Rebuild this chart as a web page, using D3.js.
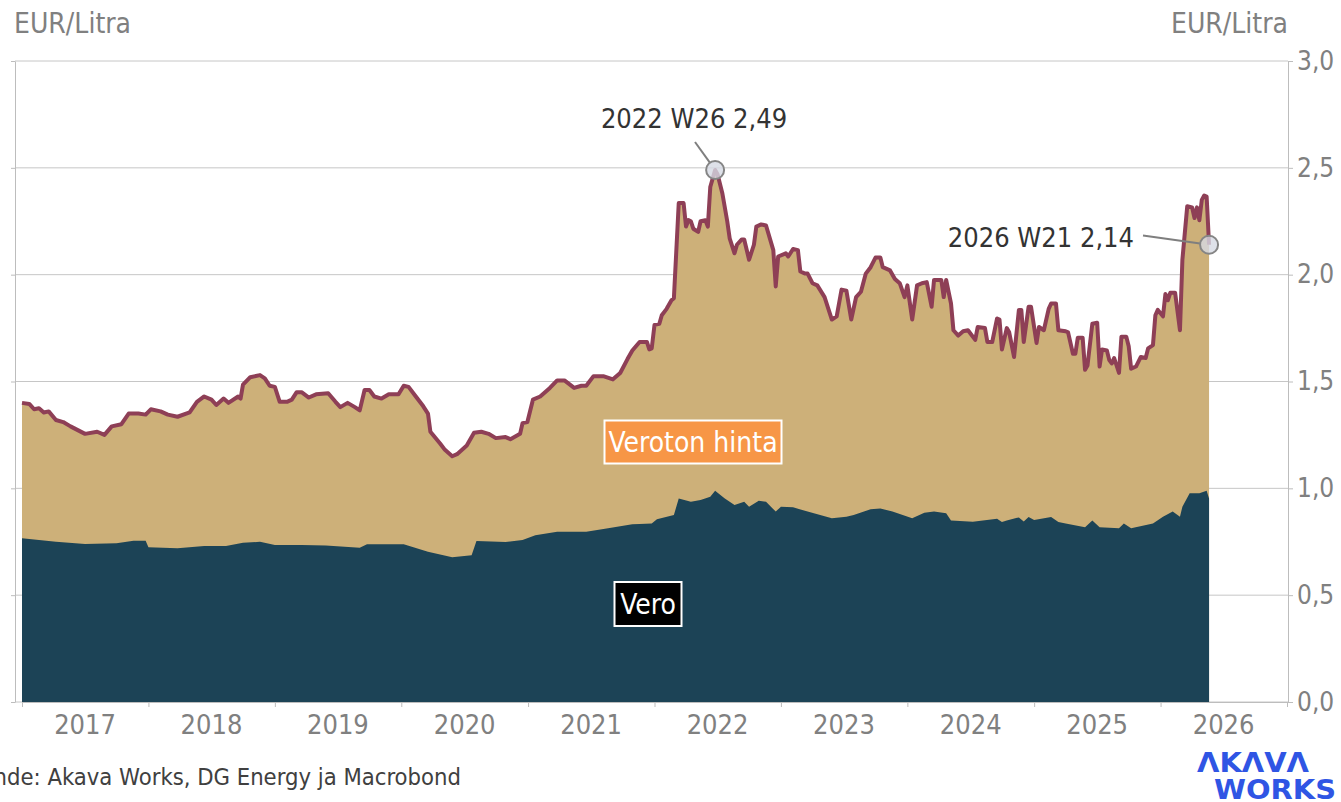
<!DOCTYPE html>
<html>
<head>
<meta charset="utf-8">
<script src="https://cdn.jsdelivr.net/npm/d3@7"></script>
<style>
  body { margin: 0; background: #fff; }
  svg text { font-family: 'DejaVu Sans Condensed', 'DejaVu Sans', sans-serif; font-stretch: condensed; }
</style>
</head>
<body>
<svg id="chart" width="1341" height="802"></svg>
<script>
// Pump price (EUR/litre), weekly readings
var totalWeeks = [
  "2017-W01","2017-W04","2017-W06","2017-W08","2017-W10","2017-W12","2017-W15","2017-W18","2017-W21","2017-W27","2017-W32","2017-W35","2017-W38","2017-W42","2017-W45","2017-W49","2017-W52",
  "2018-W02","2018-W06","2018-W09","2018-W13","2018-W18","2018-W21","2018-W24","2018-W27","2018-W29","2018-W32","2018-W34","2018-W38","2018-W39","2018-W40","2018-W43","2018-W47","2018-W49","2018-W51",
  "2019-W01","2019-W03","2019-W06","2019-W08","2019-W10","2019-W12","2019-W15","2019-W18","2019-W23","2019-W26","2019-W28","2019-W31","2019-W34","2019-W36","2019-W38","2019-W40","2019-W42","2019-W45","2019-W48","2019-W52",
  "2020-W02","2020-W04","2020-W07","2020-W10","2020-W12","2020-W13","2020-W17","2020-W19","2020-W22","2020-W24","2020-W28","2020-W31","2020-W34","2020-W37","2020-W40","2020-W44","2020-W46","2020-W50","2020-W51","2020-W53",
  "2021-W03","2021-W06","2021-W10","2021-W13","2021-W16","2021-W20","2021-W23","2021-W25","2021-W28","2021-W32","2021-W36","2021-W39","2021-W42","2021-W44","2021-W47","2021-W50","2021-W51","2021-W52",
  "2022-W01","2022-W03","2022-W04","2022-W06","2022-W08","2022-W09","2022-W11","2022-W13","2022-W14","2022-W15","2022-W16","2022-W17","2022-W19","2022-W20","2022-W22","2022-W23","2022-W24","2022-W26","2022-W27","2022-W29","2022-W31","2022-W32","2022-W34","2022-W35","2022-W37","2022-W38","2022-W40","2022-W42","2022-W43","2022-W45","2022-W47","2022-W50","2022-W51","2022-W52",
  "2023-W03","2023-W04","2023-W06","2023-W08","2023-W09","2023-W11","2023-W12","2023-W14","2023-W16","2023-W19","2023-W22","2023-W24","2023-W26","2023-W28","2023-W30","2023-W32","2023-W34","2023-W36","2023-W38","2023-W40","2023-W42","2023-W43","2023-W46","2023-W48","2023-W50","2023-W52",
  "2024-W01","2024-W03","2024-W05","2024-W07","2024-W09","2024-W11","2024-W12","2024-W15","2024-W16","2024-W17","2024-W19","2024-W20","2024-W22","2024-W24","2024-W26","2024-W29","2024-W30","2024-W33","2024-W34","2024-W36","2024-W38","2024-W39","2024-W40","2024-W42","2024-W43","2024-W45","2024-W47","2024-W48","2024-W49","2024-W51","2024-W52",
  "2025-W02","2025-W03","2025-W05","2025-W07","2025-W08","2025-W10","2025-W11","2025-W14","2025-W15","2025-W17","2025-W18","2025-W19","2025-W21","2025-W22","2025-W23","2025-W25","2025-W27","2025-W28","2025-W29","2025-W31","2025-W32","2025-W33","2025-W34","2025-W36","2025-W37","2025-W39","2025-W40","2025-W41","2025-W43","2025-W45","2025-W47","2025-W48","2025-W50","2025-W51","2025-W52",
  "2026-W02","2026-W03","2026-W04","2026-W05","2026-W07","2026-W09","2026-W10","2026-W12","2026-W14","2026-W15","2026-W16","2026-W17","2026-W18","2026-W19","2026-W20","2026-W21"
];
var totalPrice = [
  1.40,1.395,1.37,1.375,1.355,1.36,1.32,1.31,1.29,1.255,1.265,1.25,1.29,1.30,1.35,1.35,1.345,
  1.37,1.36,1.345,1.335,1.355,1.405,1.43,1.415,1.39,1.42,1.40,1.43,1.42,1.485,1.52,1.53,1.515,1.48,
  1.475,1.405,1.405,1.415,1.45,1.45,1.425,1.44,1.445,1.405,1.38,1.40,1.38,1.365,1.46,1.46,1.43,1.42,1.44,1.44,
  1.48,1.475,1.43,1.385,1.35,1.265,1.21,1.18,1.15,1.16,1.20,1.26,1.265,1.255,1.235,1.24,1.23,1.255,1.305,1.31,
  1.415,1.43,1.47,1.505,1.505,1.47,1.48,1.48,1.525,1.525,1.51,1.54,1.605,1.645,1.685,1.685,1.65,1.655,
  1.765,1.77,1.81,1.84,1.88,1.89,2.335,2.335,2.225,2.255,2.25,2.215,2.20,2.25,2.255,2.225,2.41,2.49,2.47,2.38,2.25,2.17,2.10,2.14,2.165,2.165,2.07,2.14,2.225,2.235,2.23,2.115,1.945,2.085,
  2.10,2.085,2.12,2.115,2.015,2.005,2.005,1.96,1.95,1.895,1.79,1.805,1.93,1.925,1.79,1.895,1.92,2.005,2.035,2.08,2.08,2.035,2.02,1.98,1.96,1.895,
  1.95,1.79,1.95,1.96,1.965,1.85,1.975,1.975,1.895,1.975,1.865,1.74,1.715,1.735,1.74,1.695,1.755,1.75,1.685,1.685,1.795,1.79,1.65,1.75,1.73,1.615,1.835,1.835,1.685,1.85,1.85,
  1.68,1.755,1.74,1.84,1.865,1.865,1.74,1.735,1.73,1.63,1.63,1.705,1.705,1.555,1.575,1.77,1.775,1.57,1.65,1.645,1.60,1.585,1.61,1.54,1.71,1.71,1.665,1.56,1.57,1.615,1.61,1.655,1.67,1.81,1.835,
  1.805,1.91,1.88,1.915,1.915,1.74,2.07,2.32,2.315,2.265,2.315,2.255,2.35,2.37,2.365,2.14
];

// Tax part of the price (EUR/litre)
var taxWeeks = [
  "2017-W01","2017-W15","2017-W27","2017-W40","2017-W47","2017-W52",
  "2018-W01","2018-W13","2018-W24","2018-W33","2018-W40","2018-W47",
  "2019-W01","2019-W12","2019-W22","2019-W36","2019-W39",
  "2020-W02","2020-W12","2020-W22","2020-W30","2020-W32","2020-W44","2020-W51",
  "2021-W04","2021-W13","2021-W25","2021-W34","2021-W44","2021-W47","2021-W52",
  "2022-W02","2022-W09","2022-W11","2022-W16","2022-W20","2022-W24","2022-W26","2022-W30","2022-W34","2022-W38","2022-W40","2022-W44","2022-W47","2022-W51",
  "2023-W01","2023-W06","2023-W12","2023-W22","2023-W28","2023-W31","2023-W38","2023-W42","2023-W47",
  "2024-W03","2024-W08","2024-W12","2024-W17","2024-W19","2024-W28","2024-W38","2024-W40","2024-W42","2024-W47","2024-W49","2024-W51",
  "2025-W01","2025-W08","2025-W11","2025-W14","2025-W22","2025-W25","2025-W28","2025-W36","2025-W38","2025-W41","2025-W50",
  "2026-W02","2026-W06","2026-W09","2026-W10","2026-W13","2026-W17","2026-W20","2026-W21"
];
var taxValues = [
  0.766,0.75,0.74,0.743,0.755,0.755,
  0.724,0.72,0.73,0.73,0.745,0.75,
  0.735,0.735,0.733,0.722,0.738,
  0.738,0.703,0.677,0.687,0.753,0.749,0.758,
  0.78,0.797,0.797,0.813,0.832,0.833,0.836,
  0.855,0.875,0.953,0.937,0.945,0.961,0.989,0.953,0.922,0.937,0.914,0.942,0.937,0.891,
  0.914,0.911,0.891,0.86,0.867,0.875,0.902,0.906,0.891,
  0.86,0.886,0.891,0.883,0.849,0.844,0.858,0.843,0.85,0.864,0.845,0.866,
  0.852,0.866,0.842,0.836,0.818,0.849,0.818,0.813,0.836,0.813,0.836,
  0.867,0.891,0.867,0.914,0.977,0.977,0.989,0.953
];

var yTicks = [0, 0.5, 1, 1.5, 2, 2.5, 3];
var years = [2017, 2018, 2019, 2020, 2021, 2022, 2023, 2024, 2025, 2026];

function weekDate(s) {
  var p = s.split("-W");
  return new Date(+p[0], 0, 1 + (+p[1] - 1) * 7);
}

var total = totalWeeks.map(function (w, i) { return { date: weekDate(w), value: totalPrice[i] }; });
var tax = taxWeeks.map(function (w, i) { return { date: weekDate(w), value: taxValues[i] }; });

var svg = d3.select("#chart");

var x = d3.scaleTime()
  .domain([new Date(2017, 0, 1), new Date(2027, 0, 1)])
  .range([22, 1287]);
var y = d3.scaleLinear().domain([0, 3]).range([702, 61]);

var axisColor = "#bdbdbd";
var labelColor = "#808080";

// gridlines
svg.append("g").selectAll("line")
  .data(yTicks)
  .enter().append("line")
  .attr("x1", 15).attr("x2", 1288)
  .attr("y1", function (d) { return y(d); })
  .attr("y2", function (d) { return y(d); })
  .attr("stroke", "#c6c6c6")
  .attr("stroke-width", 1);

// areas
var area = d3.area()
  .x(function (d) { return x(d.date); })
  .y0(y(0))
  .y1(function (d) { return y(d.value); });

svg.append("path").datum(total)
  .attr("d", area)
  .attr("fill", "#cdb079");

svg.append("path").datum(tax)
  .attr("d", area)
  .attr("fill", "#1c4356");

svg.append("path").datum(total)
  .attr("d", d3.line().x(function (d) { return x(d.date); }).y(function (d) { return y(d.value); }))
  .attr("fill", "none")
  .attr("stroke", "#8e3f56")
  .attr("stroke-width", 4)
  .attr("stroke-linejoin", "round");

// left axis (ticks only)
var left = svg.append("g")
  .attr("transform", "translate(15,0)")
  .call(d3.axisLeft(y).tickValues(yTicks).tickSize(4).tickSizeOuter(0).tickFormat(""));

// right axis
var right = svg.append("g")
  .attr("transform", "translate(1288,0)")
  .call(d3.axisRight(y).tickValues(yTicks).tickSize(5).tickSizeOuter(0).tickPadding(4)
    .tickFormat(function (d) { return d3.format(".1f")(d).replace(".", ","); }));
right.selectAll("text")
  .attr("fill", labelColor)
  .style("font-size", "26px");

// bottom axis
var bottom = svg.append("g")
  .attr("transform", "translate(0,702)")
  .call(d3.axisBottom(x)
    .tickValues(years.concat([2027]).map(function (yr) { return new Date(yr, 0, 1); }))
    .tickSize(5).tickSizeOuter(0).tickFormat(""));

[left, right, bottom].forEach(function (g) {
  g.selectAll("path, line").attr("stroke", axisColor);
});

svg.append("g").selectAll("text")
  .data(years)
  .enter().append("text")
  .attr("x", function (d) { return x(new Date(d, 6, 2)); })
  .attr("y", 734)
  .attr("text-anchor", "middle")
  .attr("fill", labelColor)
  .style("font-size", "27px")
  .text(function (d) { return d; });

// unit labels
svg.append("text").attr("x", 14).attr("y", 33)
  .attr("fill", labelColor).style("font-size", "28px").text("EUR/Litra");
svg.append("text").attr("x", 1288).attr("y", 33).attr("text-anchor", "end")
  .attr("fill", labelColor).style("font-size", "28px").text("EUR/Litra");

// series labels
function boxLabel(txt, cx, cy, w, h, fill) {
  var g = svg.append("g");
  g.append("rect")
    .attr("x", cx - w / 2).attr("y", cy - h / 2)
    .attr("width", w).attr("height", h)
    .attr("fill", fill).attr("stroke", "#fff").attr("stroke-width", 2);
  g.append("text")
    .attr("x", cx).attr("y", cy + 10)
    .attr("text-anchor", "middle")
    .attr("fill", "#fff")
    .style("font-size", "28px")
    .text(txt);
}
boxLabel("Veroton hinta", 693, 442, 177, 43, "#f79646");
boxLabel("Vero", 648, 604, 67, 44, "#000");

// annotations
function annotate(pt, txt, tx, ty, anchor, lx, ly) {
  var px = x(pt.date), py = y(pt.value), r = 9;
  var dx = px - lx, dy = py - ly, len = Math.sqrt(dx * dx + dy * dy);
  svg.append("line")
    .attr("x1", lx).attr("y1", ly)
    .attr("x2", px - dx / len * r).attr("y2", py - dy / len * r)
    .attr("stroke", "#7f7f7f").attr("stroke-width", 2);
  svg.append("circle")
    .attr("cx", px).attr("cy", py).attr("r", r)
    .attr("fill", "#d6dae3").attr("fill-opacity", 0.8)
    .attr("stroke", "#858585").attr("stroke-width", 2);
  svg.append("text")
    .attr("x", tx).attr("y", ty)
    .attr("text-anchor", anchor)
    .attr("fill", "#333")
    .style("font-size", "27px")
    .text(txt);
}
var peak = total[totalWeeks.indexOf("2022-W26")];
var last = total[total.length - 1];
annotate(peak, "2022 W26 2,49", 694, 128, "middle", 695, 142);
annotate(last, "2026 W21 2,14", 1134, 247, "end", 1143, 235.5);

// source and logo
svg.append("text").attr("x", 461).attr("y", 785)
  .attr("text-anchor", "end").attr("fill", "#404040")
  .style("font-size", "23.6px")
  .text("Lähde: Akava Works, DG Energy ja Macrobond");

var logo = svg.append("g")
  .attr("fill", "#2f55e4")
  .style("font-family", "Inter, Roboto, sans-serif")
  .style("font-weight", 800)
  .style("font-size", "26px");
logo.append("text").attr("x", 1197).attr("y", 772)
  .attr("textLength", 112).attr("lengthAdjust", "spacingAndGlyphs")
  .text("ΛKΛVΛ");
logo.append("text").attr("x", 1214).attr("y", 799)
  .attr("textLength", 122).attr("lengthAdjust", "spacingAndGlyphs")
  .text("WORKS");
</script>
</body>
</html>
